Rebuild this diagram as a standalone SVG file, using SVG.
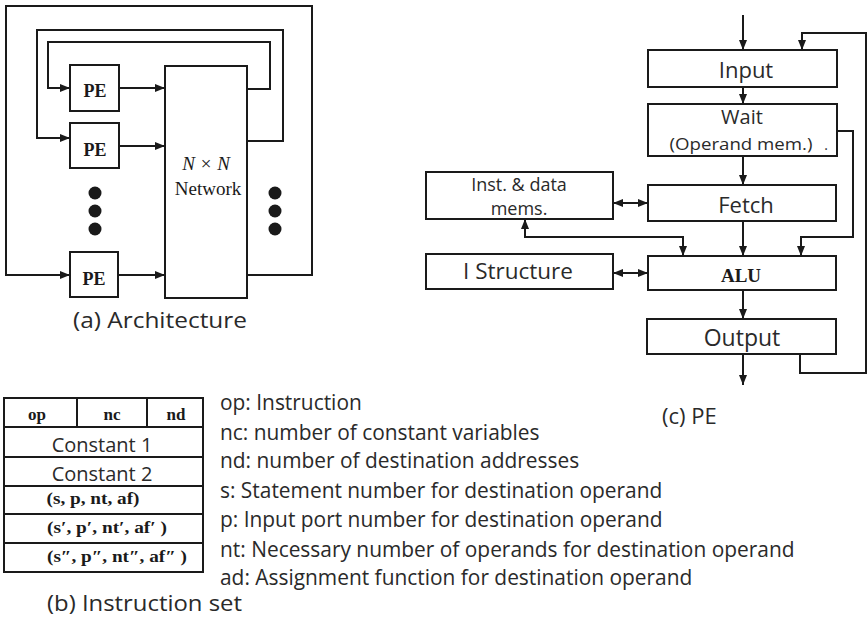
<svg xmlns="http://www.w3.org/2000/svg" width="868" height="620" viewBox="0 0 868 620">
<defs>
<marker id="ah" viewBox="0 0 10 8" refX="10" refY="4" markerWidth="10" markerHeight="8" markerUnits="userSpaceOnUse" orient="auto-start-reverse">
<path d="M0,0 L10,4 L0,8 z" fill="#1a1a1a"/>
</marker>
<style>
.box{fill:#fff;stroke:#1a1a1a;stroke-width:2}
.ln{fill:none;stroke:#1a1a1a;stroke-width:2}
.arr{fill:none;stroke:#1a1a1a;stroke-width:2;marker-end:url(#ah)}
.dbl{fill:none;stroke:#1a1a1a;stroke-width:2;marker-end:url(#ah);marker-start:url(#ah)}
.sans{font-family:"Open Sans","Liberation Sans",sans-serif;fill:#2a2a2a}
.serb{font-family:"Liberation Serif","DejaVu Serif",serif;font-weight:bold;fill:#1a1a1a}
.ser{font-family:"Liberation Serif","DejaVu Serif",serif;fill:#1a1a1a}
.dot{fill:#1a1a1a}
</style>
</defs>
<rect width="868" height="620" fill="#fff"/>

<!-- (a) Architecture -->
<g id="connectors-a">
<path class="arr" d="M247,275 H312 V6 H6 V275 H70"/>
<path class="arr" d="M247,141 H283 V30 H37 V138 H70"/>
<path class="arr" d="M247,89 H270 V42 H48 V88 H70"/>
<path class="arr" d="M119,88 H165"/>
<path class="arr" d="M119,146 H165"/>
<path class="arr" d="M119,275 H165"/>
</g>
<g id="pe1"><rect class="box" x="70" y="65" width="49" height="46"/><text class="serb" x="95" y="97" font-size="18" text-anchor="middle">PE</text></g>
<g id="pe2"><rect class="box" x="70" y="123" width="49" height="45"/><text class="serb" x="95" y="156" font-size="18" text-anchor="middle">PE</text></g>
<g id="pe3"><rect class="box" x="70" y="252" width="48" height="45"/><text class="serb" x="94" y="285" font-size="18" text-anchor="middle">PE</text></g>
<g id="network"><rect class="box" x="165" y="66" width="82" height="232"/>
<text class="ser" x="206" y="170" font-size="19" font-style="italic" text-anchor="middle">N × N</text>
<text class="ser" x="208" y="195" font-size="19" text-anchor="middle">Network</text></g>
<g id="dots-left"><circle class="dot" cx="95" cy="193" r="6.5"/><circle class="dot" cx="95" cy="211" r="6.5"/><circle class="dot" cx="95" cy="229" r="6.5"/></g>
<g id="dots-right"><circle class="dot" cx="275" cy="193" r="6.5"/><circle class="dot" cx="275" cy="211" r="6.5"/><circle class="dot" cx="275" cy="229" r="6.5"/></g>
<text class="sans" x="73" y="328" font-size="22" textLength="174" lengthAdjust="spacingAndGlyphs">(a) Architecture</text>

<!-- (c) PE -->
<g id="connectors-c">
<path class="arr" d="M743,15 V50"/>
<path class="arr" d="M800,354 V373 H866 V33 H802 V50"/>
<path class="arr" d="M743,87 V104"/>
<path class="arr" d="M743,156 V185"/>
<path class="arr" d="M837,131 H853 V237 H801 V256"/>
<path class="dbl" d="M613,203 H648"/>
<path class="dbl" d="M525,219 V237 H683 V256"/>
<path class="arr" d="M743,221 V256"/>
<path class="dbl" d="M613,273 H648"/>
<path class="arr" d="M743,290 V319"/>
<path class="arr" d="M743,354 V385"/>
</g>
<g id="input"><rect class="box" x="648" y="50" width="189" height="37"/><text class="sans" x="746" y="78" font-size="22" text-anchor="middle">Input</text></g>
<g id="wait"><rect class="box" x="648" y="104" width="189" height="52"/>
<text class="sans" x="742" y="124" font-size="20" text-anchor="middle">Wait</text>
<text class="sans" x="741" y="150" font-size="17" text-anchor="middle" textLength="143" lengthAdjust="spacingAndGlyphs">(Operand mem.)</text>
<text class="sans" x="826" y="150" font-size="14" text-anchor="middle">.</text></g>
<g id="inst-data"><rect class="box" x="426" y="172" width="187" height="47"/>
<text class="sans" x="519" y="191" font-size="18" text-anchor="middle">Inst. &amp; data</text>
<text class="sans" x="519" y="215" font-size="18" text-anchor="middle">mems.</text></g>
<g id="fetch"><rect class="box" x="648" y="185" width="188" height="36"/><text class="sans" x="746" y="213" font-size="22" text-anchor="middle">Fetch</text></g>
<g id="istructure"><rect class="box" x="426" y="254" width="187" height="35"/><text class="sans" x="518" y="279" font-size="22.5" text-anchor="middle">I Structure</text></g>
<g id="alu"><rect class="box" x="648" y="256" width="188" height="34"/><text class="serb" x="741" y="282" font-size="19" text-anchor="middle">ALU</text></g>
<g id="output"><rect class="box" x="647" y="319" width="189" height="35"/><text class="sans" x="742" y="346" font-size="23" text-anchor="middle">Output</text></g>
<text class="sans" x="662" y="424" font-size="22">(c) PE</text>

<!-- (b) Instruction set -->
<g id="instruction-table">
<rect class="box" x="4" y="398" width="199" height="174"/>
<path class="ln" d="M4,427 H203 M4,457 H203 M4,486 H203 M4,514 H203 M4,543 H203 M77,398 V427 M147,398 V427"/>
<text class="serb" x="37" y="420" font-size="17" text-anchor="middle">op</text>
<text class="serb" x="112" y="420" font-size="17" text-anchor="middle">nc</text>
<text class="serb" x="176" y="420" font-size="17" text-anchor="middle">nd</text>
<text class="sans" x="102" y="452" font-size="20" text-anchor="middle">Constant 1</text>
<text class="sans" x="102" y="481" font-size="20" text-anchor="middle">Constant 2</text>
<text class="serb" x="93" y="504" font-size="16" text-anchor="middle" textLength="93" lengthAdjust="spacingAndGlyphs">(s, p, nt, af)</text>
<text class="serb" x="107" y="533" font-size="16" text-anchor="middle" textLength="120" lengthAdjust="spacingAndGlyphs">(s′, p′, nt′, af′ )</text>
<text class="serb" x="117" y="562" font-size="16" text-anchor="middle" textLength="140" lengthAdjust="spacingAndGlyphs">(s″, p″, nt″, af″ )</text>
</g>
<g id="legend" class="sans" font-size="20.9">
<text x="220" y="410">op: Instruction</text>
<text x="220" y="440">nc: number of constant variables</text>
<text x="220" y="468">nd: number of destination addresses</text>
<text x="220" y="498">s: Statement number for destination operand</text>
<text x="220" y="527">p: Input port number for destination operand</text>
<text x="220" y="557">nt: Necessary number of operands for destination operand</text>
<text x="220" y="585">ad: Assignment function for destination operand</text>
</g>
<text class="sans" x="47" y="611" font-size="22" textLength="195" lengthAdjust="spacingAndGlyphs">(b) Instruction set</text>
</svg>
